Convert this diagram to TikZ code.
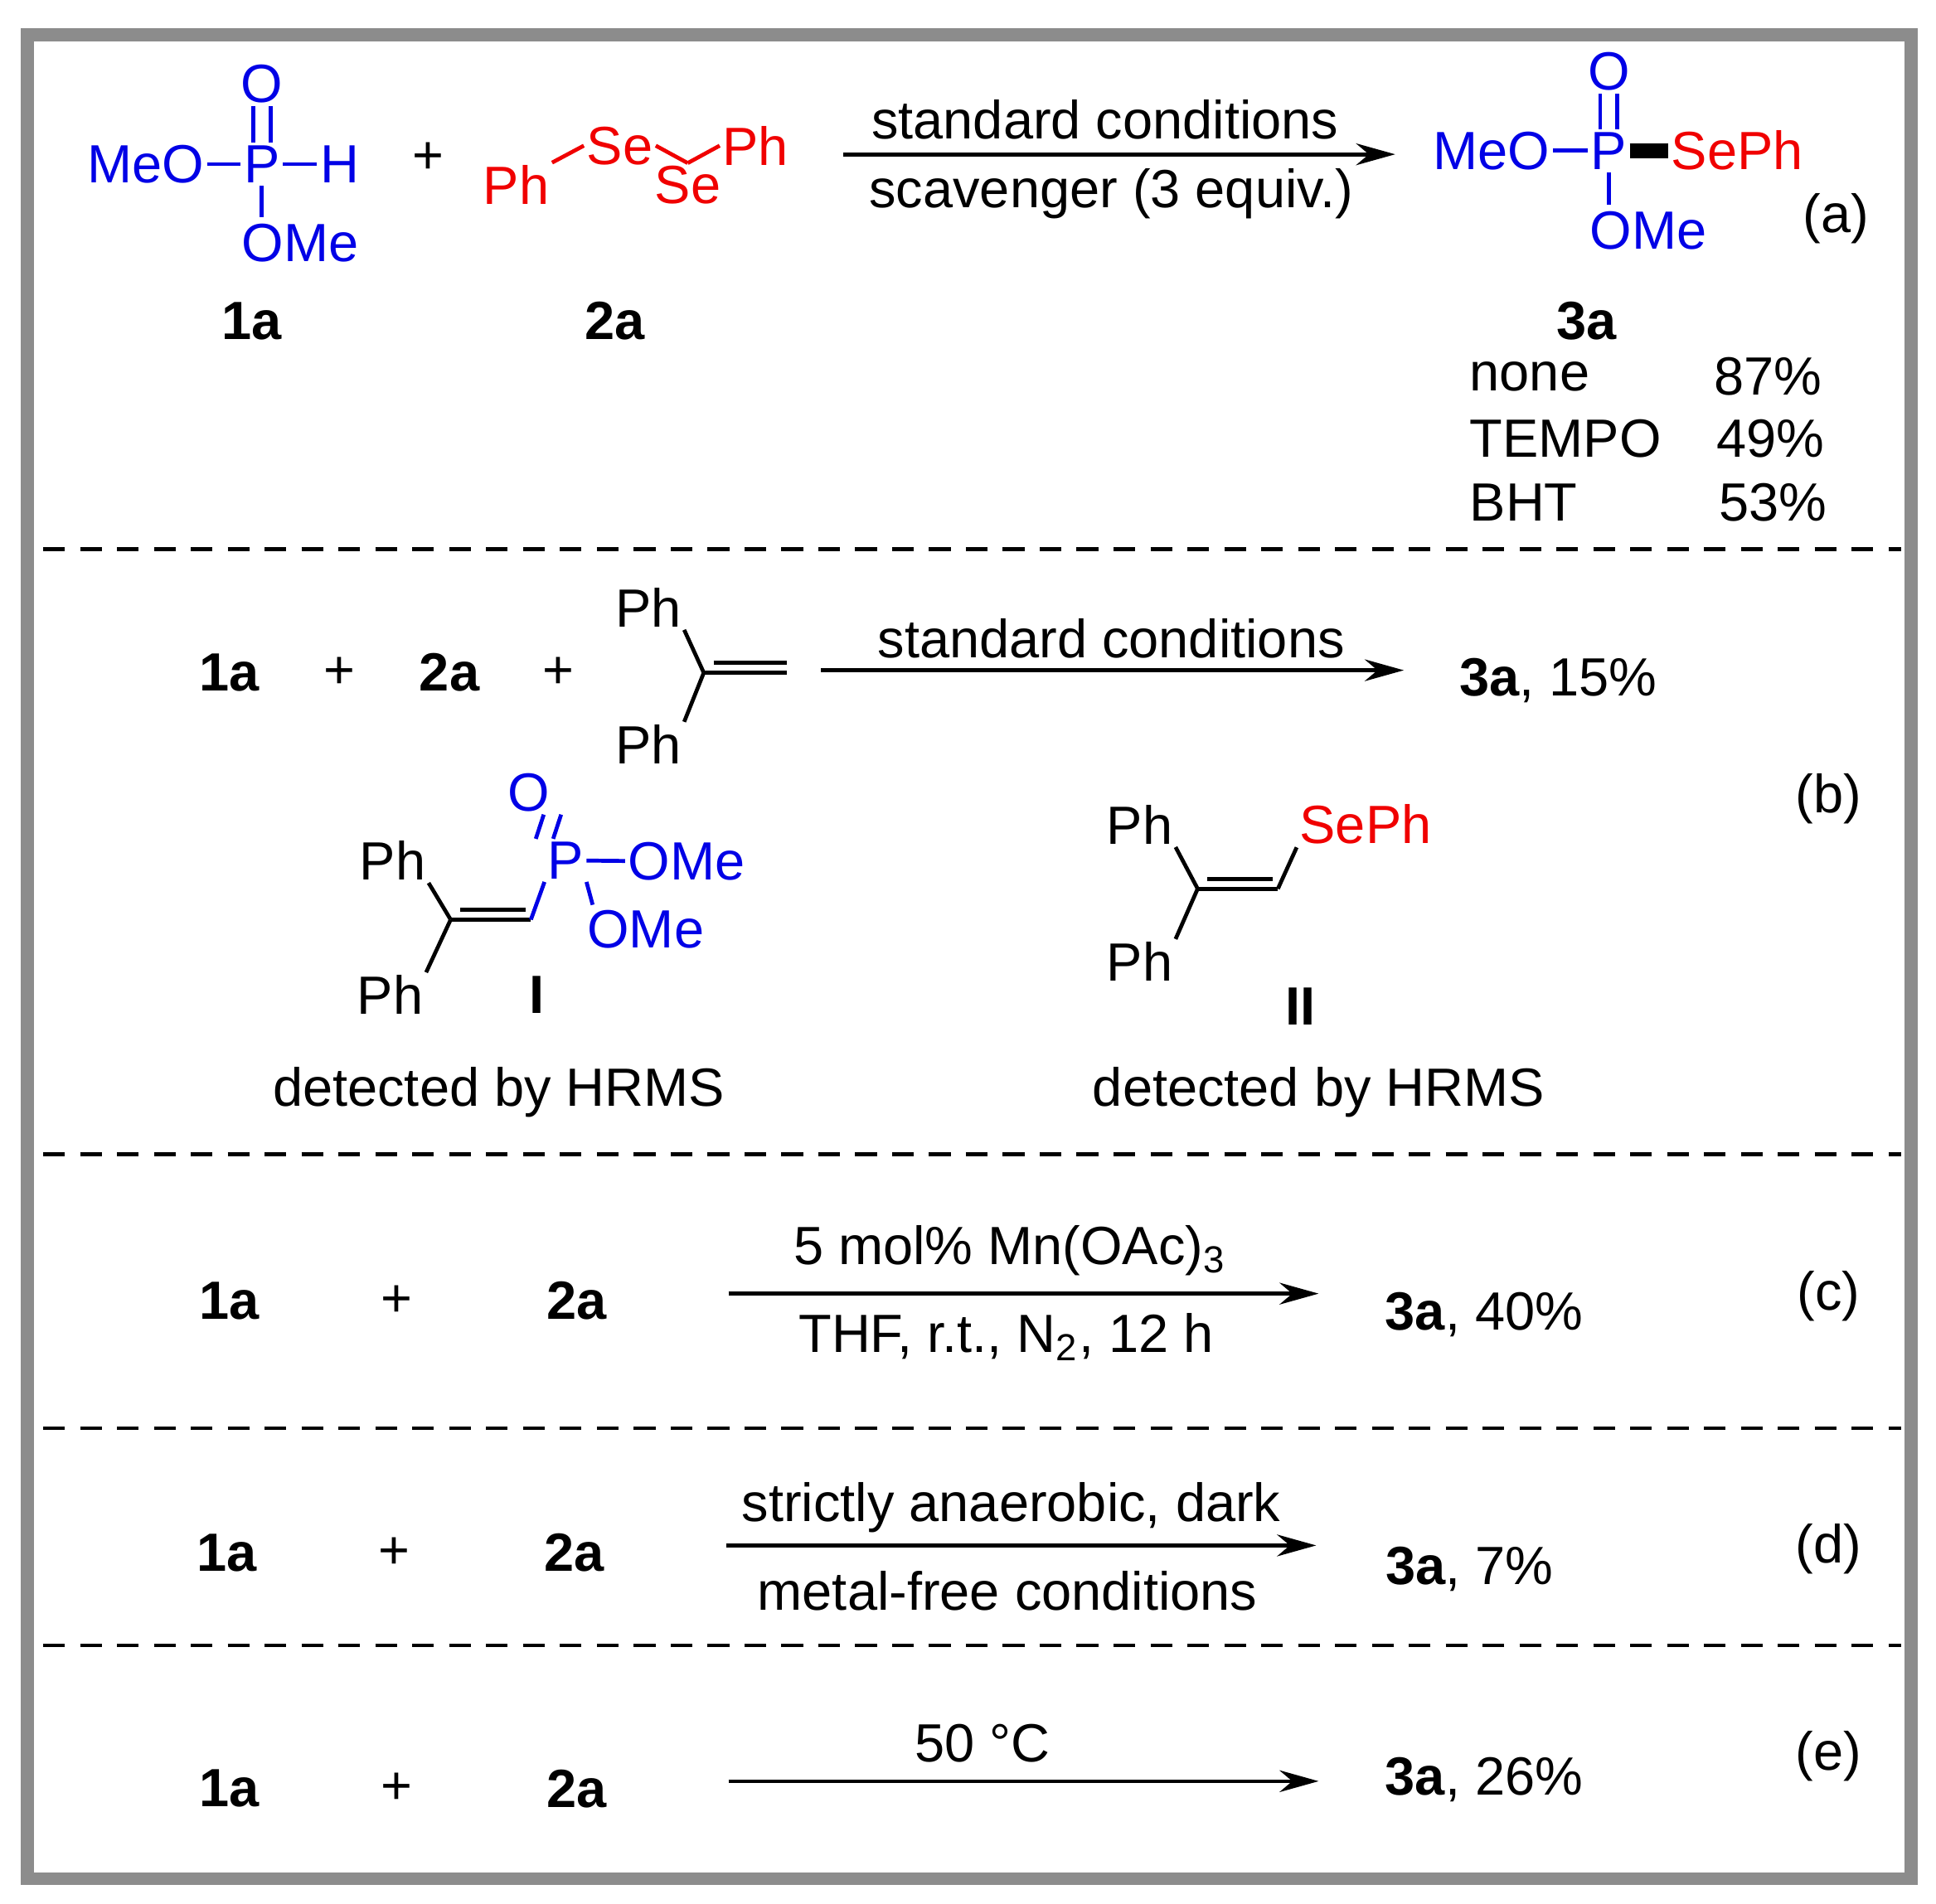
\documentclass[tikz,border=0pt]{standalone}
\usepackage{fontspec}
\setmainfont{Liberation Sans}
\usetikzlibrary{positioning,calc,arrows.meta}
\definecolor{chemblue}{RGB}{0,0,230}
\definecolor{chemred}{RGB}{240,0,0}
\tikzset{x=0.01cm,y=-0.01cm,
        every node/.style={font=\fontsize{12.4}{14}\selectfont, inner sep=0.5pt},
        blu/.style={text=chemblue},
        rd/.style={text=chemred},
        cmpd/.style={font=\fontsize{12.4}{14}\selectfont\bfseries},
        bond/.style={draw, line width=0.9pt},
        bbond/.style={bond, draw=chemblue},
        rbond/.style={bond, draw=chemred},
        rxn/.style={draw, line width=0.9pt, -{Stealth[length=9pt,width=5pt]}},
        sep/.style={draw, line width=0.9pt, dash pattern=on 5pt off 3.5pt}
        }
\begin{document}
\begin{tikzpicture}
    \useasboundingbox (0,0) rectangle (1568,1542);
    \draw[line width=3pt, draw=gray!90] (22,28) rectangle (1548,1522);
    % separators
    \foreach \yy in {445,935,1157,1333}
        \draw[sep] (35,\yy) -- (1540,\yy);

    % (a) ------------------------------------------------
    \node[blu] (meo1) at (118,133) {MeO};
    \node[blu] (p1)   at (212,133) {P};
    \node[blu] (h1)   at (275,133) {H};
    \node[blu] (o1)   at (212,68)  {O};
    \node[blu] (ome1) at (243,197) {OMe};
    \draw[bbond] (meo1) -- (p1);
    \draw[bbond] (p1) -- (h1);
    \draw[bbond] ([xshift=-2pt]p1.north) -- ([xshift=-2pt]o1.south);
    \draw[bbond] ([xshift=2pt]p1.north) -- ([xshift=2pt]o1.south);
    \draw[bbond] (p1.south) -- (212,176);
    \node (plusa) at (347,128) {+};
    \node[rd] (ph1) at (418,150) {Ph};
    \node[rd] (se1) at (502,118) {Se};
    \node[rd] (se2) at (557,150) {Se};
    \node[rd] (ph2) at (612,118) {Ph};
    \draw[rbond] (ph1.north east) -- (se1.west);
    \draw[rbond] (se1.east) -- (se2.north);
    \draw[rbond] (se2.north) -- (ph2.west);
    \coordinate (a0) at (683,125);
    \coordinate (a1) at (1130,125);
    \draw[rxn] (a0) -- (a1);
    \node at (895,97)  {standard conditions};
    \node at (900,157) {scavenger (3 equiv.)};
    \node[blu] (meo3) at (1208,122) {MeO};
    \node[blu] (p3)   at (1303,122) {P};
    \node[blu] (o3)   at (1303,58)  {O};
    \node[rd]  (seph3) at (1407,122) {SePh};
    \node[blu] (ome3) at (1335,187) {OMe};
    \draw[bbond] (meo3) -- (p3);
    \draw[bbond] ([xshift=-2pt]p3.north) -- ([xshift=-2pt]o3.south);
    \draw[bbond] ([xshift=2pt]p3.north) -- ([xshift=2pt]o3.south);
    \draw[bbond] (p3.south) -- (1303,166);
    \draw[line width=3.5pt] (p3.east) -- (seph3.west);
    \node at (1487,177) {(a)};
    \node[cmpd] (c1a) at (204,260) {1a};
    \node[cmpd] (c2a) at (498,260) {2a};
    \node[cmpd] (c3a) at (1285,260) {3a};
    \node[anchor=west] at (1188,305) {none};
    \node[anchor=west] at (1386,305) {87\%};
    \node[anchor=west] at (1188,355) {TEMPO};
    \node[anchor=west] at (1388,355) {49\%};
    \node[anchor=west] at (1188,407) {BHT};
    \node[anchor=west] at (1390,407) {53\%};

    % (b) ------------------------------------------------
    \node[cmpd] at (186,545) {1a};
    \node at (275,545) {+};
    \node[cmpd] at (364,545) {2a};
    \node at (452,545) {+};
    \node (phb1) at (525,492) {Ph};
    \node (phb2) at (525,603) {Ph};
    \coordinate (cb) at (570,545);
    \coordinate (cb2) at (637,545);
    \draw[bond] (phb1.south east) -- (cb);
    \draw[bond] (phb2.north east) -- (cb);
    \draw[line width=0.9pt] (cb) -- (cb2);
    \draw[line width=0.9pt] ($(cb)+(8,-8)$) -- ($(cb2)+(0,-8)$);
    \coordinate (b0) at (665,543);
    \coordinate (b1) at (1137,543);
    \draw[rxn] (b0) -- (b1);
    \node at (900,517) {standard conditions};
    \node at (1262,551) {\textbf{3a}, 15\%};
    \node at (1481,647) {(b)};
    % intermediate I
    \node (phi1) at (318,697) {Ph};
    \node (phi2) at (316,806) {Ph};
    \coordinate (ci) at (365,745);
    \coordinate (ci2) at (430,745);
    \node[blu] (pi) at (458,697) {P};
    \node[blu] (oi) at (428,642) {O};
    \node[blu] (omei1) at (556,698) {OMe};
    \node[blu] (omei2) at (523,753) {OMe};
    \draw[bond] (phi1.south east) -- (ci);
    \draw[bond] (phi2.north east) -- (ci);
    \draw[line width=0.9pt] (ci) -- (ci2);
    \draw[line width=0.9pt] ($(ci)+(8,-8)$) -- ($(ci2)+(-4,-8)$);
    \draw[line width=0.9pt, draw=chemblue] (ci2) -- (pi.south west);
    \draw[bbond] ([xshift=-2pt]pi.north west) -- ([xshift=-2pt]oi.south east);
    \draw[bbond] ([xshift=2pt]pi.north west) -- ([xshift=2pt]oi.south east);
    \draw[bbond] (pi) -- (omei1);
    \draw[bbond] (pi.south east) -- (480,733);
    \node[cmpd] at (435,806) {I};
    \node at (404,885) {detected by HRMS};
    % intermediate II
    \node (phii1) at (923,668) {Ph};
    \node (phii2) at (923,779) {Ph};
    \coordinate (cii) at (970,720);
    \coordinate (cii2) at (1035,720);
    \node[rd] (sephii) at (1106,668) {SePh};
    \draw[bond] (phii1.south east) -- (cii);
    \draw[bond] (phii2.north east) -- (cii);
    \draw[line width=0.9pt] (cii) -- (cii2);
    \draw[line width=0.9pt] ($(cii)+(8,-8)$) -- ($(cii2)+(-4,-8)$);
    \draw[line width=0.9pt] (cii2) -- (sephii.south west);
    \node[cmpd] at (1053,815) {II};
    \node at (1068,885) {detected by HRMS};

    % (c) ------------------------------------------------
    \node[cmpd] at (186,1054) {1a};
    \node at (321,1054) {+};
    \node[cmpd] at (467,1054) {2a};
    \coordinate (c0) at (590,1048);
    \coordinate (c1) at (1068,1048);
    \draw[rxn] (c0) -- (c1);
    \node at (818,1013) {5 mol\% Mn(OAc)\textsubscript{3}};
    \node at (815,1083) {THF, r.t., N\textsubscript{2}, 12 h};
    \node at (1202,1065) {\textbf{3a}, 40\%};
    \node at (1481,1050) {(c)};

    % (d) ------------------------------------------------
    \node[cmpd] at (184,1258) {1a};
    \node at (319,1258) {+};
    \node[cmpd] at (465,1258) {2a};
    \coordinate (d0) at (588,1252);
    \coordinate (d1) at (1066,1252);
    \draw[rxn] (d0) -- (d1);
    \node at (819,1221) {strictly anaerobic, dark};
    \node at (816,1289) {metal-free conditions};
    \node at (1190,1271) {\textbf{3a}, 7\%};
    \node at (1481,1255) {(d)};

    % (e) ------------------------------------------------
    \node[cmpd] at (186,1449) {1a};
    \node at (321,1449) {+};
    \node[cmpd] at (467,1449) {2a};
    \coordinate (e0) at (590,1443);
    \coordinate (e1) at (1068,1443);
    \draw[rxn] (e0) -- (e1);
    \node at (796,1412) {50 °C};
    \node at (1202,1442) {\textbf{3a}, 26\%};
    \node at (1481,1423) {(e)};
\end{tikzpicture}
\end{document}
